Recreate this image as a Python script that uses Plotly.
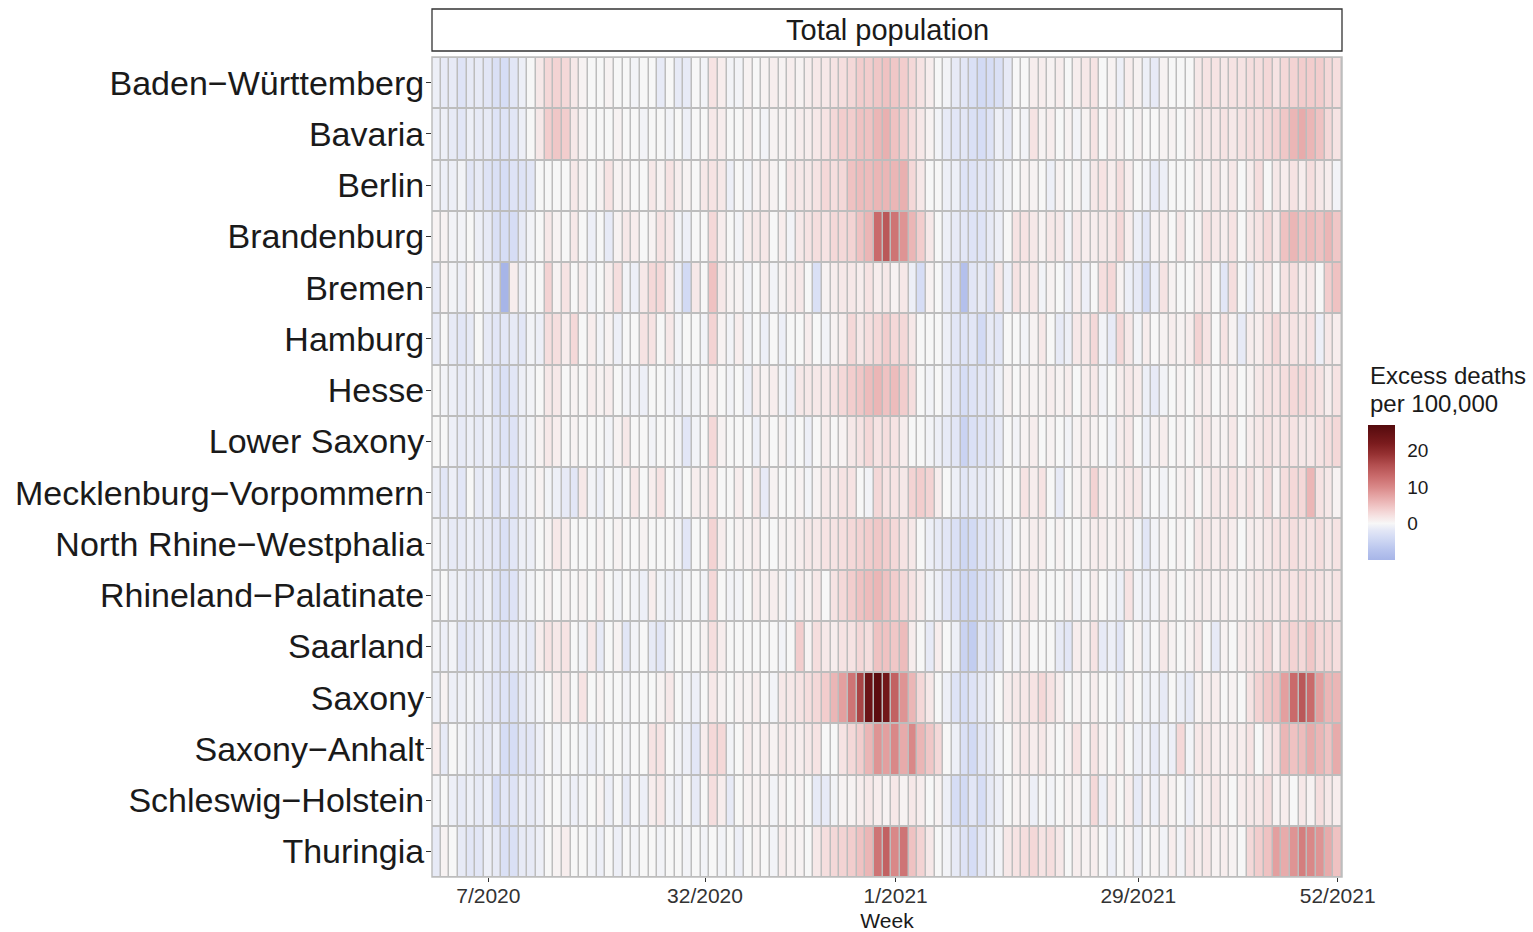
import plotly.graph_objects as go

# Weekly excess deaths per 100,000, German federal states, weeks 1/2020 .. 52/2021
states = [
    "Baden−Württemberg", "Bavaria", "Berlin", "Brandenburg", "Bremen", "Hamburg",
    "Hesse", "Lower Saxony", "Mecklenburg−Vorpommern", "North Rhine−Westphalia",
    "Rhineland−Palatinate", "Saarland", "Saxony", "Saxony−Anhalt",
    "Schleswig−Holstein", "Thuringia",
]

weeks = [f"{w}/2020" for w in range(1, 54)] + [f"{w}/2021" for w in range(1, 53)]
tick_weeks = ["7/2020", "32/2020", "1/2021", "29/2021", "52/2021"]

baden_wuerttemberg = [
    -1, -1.5, -1.5, -2.5, -1.5, -1.5, -2, -3, -3.5, -2, -1, 0, 1.5, 3, 3.5, 3, 1.5, 0.5, 0, 0, 0.5, 0, 0, -0.5, 0, 0, -1.5, 0, -1.5, -1.5, 0, -0.5, 2, 1, -0.5,
    -0.5, 0.5, 0, 0.5, 1, 0.5, 1, 0.5, 1, 1.5, 1.5, 2, 2.5, 3, 4, 4, 4.5, 5, 4.5, 4, 3, 2, 1, 0, -0.5, -1.5, -2, -3, -4, -3.5, -3, -1.5, 0, 0, 1,
    1, 0.5, 1, 0, 1, 1.5, 2, 0, 0.5, -1, 1, 0.5, -1, -1.5, 0.5, 0, 0, 0, 1.5, 2, 2, 1.5, 2, 2, 2.5, 2.5, 3, 2, 3, 3.5, 4, 4, 4, 3, 2.5,
]
bavaria = [
    -1, -1, -1.5, -2, -1, -1.5, -1.5, -2.5, -2.5, -2, -1, 0, 1.5, 4, 4.5, 4, 1.5, 0.5, 0, 0, 0, 0.5, 0, 0, -0.5, 0, 0, -0.5, 0, -1, 0, 0, 1.5, 1, 0,
    0, 0.5, 0, -0.5, 0.5, 0.5, 0.5, 1, 1, 1.5, 2, 3, 4, 4, 5, 5, 6, 6.5, 5, 4, 2.5, 1.5, 0.5, -0.5, -1.5, -2, -2, -3, -3.5, -2.5, -1, -1.5, 0, -0.5, 2,
    0.5, 1, 0, 0.5, -0.5, 0.5, 2, 0, 1, 0.5, 0, 0.5, 0, 0, 0.5, 0.5, 0, 0.5, 1.5, 1.5, 1.5, 2, 1.5, 2, 2.5, 2.5, 3, 3.5, 4.5, 6, 7, 6, 5, 3, 2,
]
berlin = [
    -0.5, -1, -1, -0.5, -2, -1.5, -2.5, -3, -3.5, -2.5, -2.5, -2, 0, 0, 0, 0, 1.5, 0.5, 0, 0.5, 2, 0.5, 0.5, 0, 0, 1.5, 0.5, 2, 1, 0.5, 0, 1.5, 2, 1.5, -1,
    0, -0.5, 0.5, 1, 0.5, 0, 1.5, 1.5, 1.5, 2, 3, 2.5, 3, 5, 5.5, 5.5, 6, 6, 6, 6.5, 3, 1.5, 0, 0, -1, -1, -2.5, -2.5, -2, -2, -1, -0.5, 0, 0.5, 0.5,
    0, -1, 0.5, 0, 0.5, -0.5, 1.5, 2, 1, 2.5, 1, 0, -0.5, -1.5, -1, 0, 0, 0, 1, 0.5, 1.5, 0.5, 1.5, 0, 1, 2.5, 0, 1.5, 1, 2, 1, 2.5, 1.5, 1, -0.5,
]
brandenburg = [
    0.5, 0.5, -0.5, -0.5, 0, -1, -1.5, -3, -3.5, -3.5, -1.5, -0.5, 0, 1.5, 0.5, 0, 1.5, 0, -1, 0, -1.5, 0.5, 1.5, 1, 0, 0.5, 2, 1.5, -0.5, -1, 0, 0, 3, 1, 0,
    -0.5, 1, 1.5, 1.5, 0, 1, -0.5, 1.5, 2, 2.5, 2, 3, 3, 3.5, 5, 6, 13, 15, 12, 9, 6, 4, 1.5, 0, -1, -1.5, -2, -2.5, -2.5, -1.5, -1, 0, 2, 2, 1.5,
    0.5, 1.5, 1.5, -0.5, 1.5, 1, 1, 1.5, 1.5, 3, 1, -1, -2, 0.5, 1, 0, 1.5, 0, 0.5, 2, 1.5, 1, 2, 0, 1.5, 2, 3, 1.5, 5, 6, 5, 5.5, 5, 6, 4.5,
]
bremen = [
    -1.5, 0.5, -0.5, -1, 0.5, 0, -1, -1.5, -10, 1, -1, 0, 0, 3.5, 0.5, 2, 0, 1, -0.5, 0, 1, 2.5, -0.5, -1, 1.5, 3, 3, 1, -1, -4, 1.5, 0, 5, 1.5, 0.5,
    0.5, -0.5, 0, 1, -0.5, 0.5, 1, 1.5, 0, -3, 0.5, 1, 1.5, 1.5, 1, 2, 1, 1.5, 0.5, 1.5, -1, -3.5, 0.5, 0, -1.5, -2, -8, -2, -1.5, -2.5, 1.5, -1, 2, 1, 1.5,
    -0.5, 0.5, 0, -1, 1, -1, 0, 2.5, 3, 0.5, -1, -1.5, -4, -1, 2, 0.5, 0, 0, 1, 1.5, 0, -2, 2.5, 0, -1, 1, 1.5, 0, 2, 2.5, 1, 1.5, 0, 4, 5,
]
hamburg = [
    -1.5, 0, -1.5, -2, -1.5, 0, -1.5, -2, -2, -1.5, -2, -0.5, -1, 2.5, 2.5, 1, 3, 0, 1, -0.5, 0.5, -1, 0, 0, 2, 2, 0, 1.5, -0.5, 0, 0, -0.5, 3.5, 0.5, -0.5,
    1, -0.5, 0, -1, 0, -1, 0, 0, 1, 0, -0.5, 0.5, 1, 3, 1.5, 2.5, 3, 4, 3, 3, 1.5, 0, 0, 0, -1, -2, -2.5, -2, -4, -1.5, -2, 0, 0, -0.5, 0.5,
    1.5, 0, -1.5, -1, 1.5, 1.5, 3, -0.5, -1.5, 3, 1.5, -0.5, 1, 0, 0.5, 1, 0.5, 1, 3.5, 2, 0, 2, 0.5, -1.5, 1, 1, 2, 3, 1.5, 2, 1.5, 2, -1, 1.5, 1,
]
hesse = [
    0, -0.5, -1, -1.5, -1, -1.5, -1, -2.5, -3, -2, -1, -0.5, 0, 1.5, 1.5, 0, 0.5, 0, 1, 0.5, 1, 0, -0.5, -0.5, -1, 0, 0, -0.5, -1, -0.5, -0.5, 0, 1, 0, -0.5,
    0, -1, 1, 0.5, 1, -0.5, -1, 1.5, 1.5, 1.5, 1.5, 2, 3, 4, 4.5, 5.5, 6, 5, 5.5, 4, 2.5, 0, -0.5, 0, -1, -2, -3.5, -2.5, -2, -2, -1, 0.5, 0, 0.5, 0.5,
    0.5, 1, 0.5, 1, 0, 1, 1.5, -0.5, 0, 1, 1.5, 1, -1, -1.5, -0.5, 0, 0.5, 0, 1, 1, 0, 0.5, 1, 0, 0.5, 1.5, 2, 2, 2.5, 3, 3, 2.5, 2, 1, 2,
]
lower_saxony = [
    0, 0, -1, -1.5, -1, -1.5, -1, -2, -2.5, -2.5, -1, -0.5, 0.5, 1.5, 1, 0, 0.5, 0, 0, 0, -0.5, 0.5, 1.5, 0, 0, -0.5, 0, 0, -0.5, -2, -0.5, 0, 3, 0.5, 0,
    0, 0, -1, 0.5, 0, 0.5, -0.5, 0, -1, 0, 1, 0, 0.5, 1.5, 2, 3, 2, 2.5, 2, 1, 0, 0, -0.5, -1, -1.5, -2, -5, -3, -2.5, -2, -1.5, 0, -0.5, 0.5, 1,
    0, 0.5, 0, -0.5, 0.5, 1, 0.5, 0, -0.5, 1, 1.5, 0, -1, 0.5, 1, 0, 0.5, 0, 1, 1.5, 0.5, 0.5, 1.5, 0, 1, 1.5, 2, 1.5, 2, 2, 1.5, 1.5, 2, 2.5, 3,
]
mecklenburg_vorpommern = [
    -1, -2, -1, -2, 0, -1.5, -1, -3, -1, -2.5, -1, -0.5, 0.5, -0.5, -1, -1.5, -2, 1.5, -0.5, -1, 0, -0.5, 0, 1.5, 0, 1, 2, 0, -0.5, 0, 1, 0.5, 2, 0, 0,
    1, 0, 1.5, -1.5, 0.5, 0, 0, 0.5, -0.5, 0.5, 1.5, 1, 2, 2, 0, -0.5, 3, 2, 2, 1.5, 3.5, 4, 3.5, 1, 0, -1, -2, -1.5, -1.5, -1, -0.5, 0, 0, 2, 1,
    2, 0, -1.5, 0, 0.5, 1, 3.5, 1, 0.5, 1, 1.5, 1.5, -0.5, 0, -0.5, 0, 0.5, 1, 0, 1, 1.5, 1, 2, 1, 2, 1, 2.5, 0.5, 2.5, 3, 3, 6, 2, 1.5, 0.5,
]
north_rhine_westphalia = [
    -0.5, -1, -1.5, -1.5, -1, -1.5, -1.5, -2, -3, -2, -1, -1, 0, 0.5, 1.5, 1, 0, 0, 0, 0.5, 0, 0.5, 0, 0, 0.5, 0, 0, 0, -0.5, -2, 0, 0, 3.5, 1, 0,
    0.5, 0.5, 1, 0, 0, 0.5, 0.5, 1, 1.5, 1.5, 2, 2, 2.5, 3, 3.5, 4, 4.5, 4, 3, 2, 1.5, 0, -1, -1.5, -2, -3, -4.5, -4, -2.5, -2, -1.5, -1, 0, 0.5, 1,
    1, 0, 0.5, 0, 0, 0.5, 1, 1, 0.5, 1, 1, -0.5, -2, -0.5, 0.5, 0, 0.5, 0, 1.5, 1.5, 1, 1.5, 1, 0, 1, 1, 1.5, 2, 2, 2.5, 2, 2, 2.5, 1.5, 2,
]
rhineland_palatinate = [
    -0.5, 0, -1, -1, -1.5, -1.5, -1, -2.5, -3, -2.5, -1, -0.5, 0, 0.5, 0, 0.5, 0, 0.5, 0, 1, 0, -0.5, 0, -0.5, -1, 1, -0.5, -1, -1, -0.5, 0, -0.5, 3, 0, -0.5,
    -0.5, 0, 1, 0.5, 1, 0.5, -0.5, 1, 0.5, 1.5, 0, 2, 3, 4, 5, 5.5, 6, 5, 4, 3, 2, 1, -0.5, -1, -2, -3, -4.5, -4.5, -3, -2.5, -1.5, -0.5, 0.5, 1, 1,
    0, 0, 0, 0.5, -0.5, 0, 1, 0, -0.5, -1, 2, -0.5, -1, -0.5, 1, 0.5, 0, 0.5, 1, 1, 0.5, 1, 0.5, 0.5, 1, 1.5, 1.5, 1.5, 2, 2, 2.5, 2, 2, 1.5, 2,
]
saarland = [
    -0.5, -1, -0.5, -2, -1.5, -1.5, -1, -2, -2.5, -1.5, -1, -1.5, 1, 2, 1.5, 2, 0, -0.5, 1.5, -1.5, 0, 0.5, -2, -0.5, 0, -1.5, -2, -0.5, 0, 0, 0, 0.5, 2.5, 1, 0,
    0, 0, 0, 0, 0, -0.5, 0, 4, 0.5, 2.5, 1.5, 1, 2, 2, 3, 2.5, 5, 5, 4.5, 5.5, 1, 0, -1.5, 1, 0, -1, -5, -6, -2, -3, -1.5, 0, -0.5, 1, 0,
    0, 0, -1.5, -2, 1, 0.5, 2, -1.5, -1, -2, 0, 0.5, -1, 0, 1.5, 0.5, 0, 0.5, 1.5, 0, -1.5, 0.5, 0, 1, 1.5, 2, 3, 1, 3, 3.5, 3, 4.5, 3, 3, 2.5,
]
saxony = [
    -1, 0.5, -1, -1, -0.5, -1, -1.5, -2, -2.5, -3, -1.5, -1, -0.5, 0, 1, 1.5, 0, 2, 0, 0.5, 0, 0, -0.5, 0, 0, 0, 0.5, 1.5, 0, -0.5, -1, 0, 1.5, 0.5, 0,
    0.5, 0.5, 1, 0, -0.5, 1.5, 1.5, 2, 2.5, 3, 4, 6, 8, 12, 17, 24, 26, 23, 14, 9, 6, 3, 1.5, 0, -1, -2.5, -3.5, -2.5, -1.5, -1, 0, 1, 1.5, 1.5, 2,
    3, 2, 1, 0, 0.5, 0, 1, 0, 0, -1, 0.5, 0, -1, -0.5, -1.5, 0, -1, -1.5, 0.5, 1, 1, 0, 0.5, 0, 2, 3.5, 4.5, 5, 8, 13, 15, 13, 8, 6, 6,
]
saxony_anhalt = [
    1, -1.5, 0, -0.5, -1, -1.5, -1.5, -1, -3.5, -3.5, -2, -2, -1, 0, -0.5, 0, 0, -0.5, -1, -0.5, 0, 0, -0.5, 0, 0, 2, 2, 0, -0.5, -1, -2, 1, 3, 3, -0.5,
    0, 1, 0.5, 1, 0.5, 1.5, 1, 1, 1.5, 2, 0, 0, 2, 3, 4, 6, 9, 8, 10, 7, 10, 6, 4.5, 3, 0, -1, -3, -4, -2, -1.5, -0.5, 0, 1, 1.5, 1,
    1.5, 0.5, 0, 0.5, 2, 0, 2, 0.5, 0, 1, 0, -1, -0.5, -1.5, -0.5, -1, 3, -0.5, 1.5, 1.5, 1, 0.5, 1, 1, 2, 0, 1.5, 2, 6, 5, 5.5, 7, 6, 5, 7,
]
schleswig_holstein = [
    -0.5, 0, -1, -1.5, -1, -1.5, -1, -3.5, -2, -2.5, -1, -1.5, -1, 0, 0, -0.5, -1, -0.5, 0, 0.5, -1, 0, -1.5, 0, -1, 1, 1.5, -0.5, -1, 0, -1.5, 0, 2.5, 1, -1.5,
    0, 0.5, 0.5, 0.5, -0.5, 0.5, 0, 0.5, 0, -1.5, -1.5, -0.5, 0.5, 0.5, 1, 1.5, 1, 0.5, 1.5, 0.5, 1.5, 1, 0, 0.5, -1, -3.5, -4, -2, -3.5, -1.5, -1, 0, 0.5, 0.5, -1,
    0, -0.5, 0, 0.5, 0.5, -0.5, 3, -1, 1, 0, 1, -1.5, 0.5, -1, 1, 0.5, 0, -1, 0.5, 1, 1.5, 0.5, 0, 1, 1.5, 1.5, 2.5, 0.5, 1, 0, 1.5, 0.5, 2.5, 1.5, 1,
]
thuringia = [
    -1.5, 0.5, 0, -1.5, -2, -2, -1, -1.5, -3, -3, -1.5, -1.5, -1, 0, 0.5, 1, 0, 0, -0.5, -1, 0, -1, 0, -0.5, 0, 0, -0.5, 0, 0, -0.5, 0, -0.5, 0, -0.5, 0,
    -1, 0, 0.5, 0, -0.5, 1, 0.5, 0.5, 0, 1.5, 2.5, 3, 3.5, 4, 5, 6, 12, 14, 10, 12, 5, 3.5, 1.5, 0, -0.5, -1.5, -2.5, -3.5, -2, -1, -0.5, 1.5, 2, 2.5, 3,
    2, 2.5, 1.5, 0, 1, 0.5, 1, 0, -1, 0, 0.5, -1, 0, 0.5, -0.5, 1, -0.5, 1.5, 1, 1.5, 0.5, 1, 0.5, 0, 3, 4, 5, 8, 7, 9, 11, 10, 9, 7, 5,
]

excess = [
    baden_wuerttemberg, bavaria, berlin, brandenburg, bremen, hamburg, hesse,
    lower_saxony, mecklenburg_vorpommern, north_rhine_westphalia,
    rhineland_palatinate, saarland, saxony, saxony_anhalt, schleswig_holstein,
    thuringia,
]
for row in excess:
    assert len(row) == len(weeks)

z_min, z_max = -10, 27


def pos(v):
    return (v - z_min) / (z_max - z_min)


# diverging scale: blue below zero, white at zero, dark red above
colorscale = [
    [pos(-10), "#a7b5e8"],
    [pos(-7), "#bac6ee"],
    [pos(-4), "#d2daf4"],
    [pos(-2), "#e2e6f6"],
    [pos(0), "#f7f7f7"],
    [pos(2), "#f6e3e3"],
    [pos(4), "#f2cdcd"],
    [pos(6), "#ebb6b6"],
    [pos(8), "#e39f9f"],
    [pos(10), "#d98888"],
    [pos(13), "#c96a6b"],
    [pos(16), "#b34f50"],
    [pos(19), "#963132"],
    [pos(22), "#7a1b1d"],
    [pos(27), "#540a0d"],
]

FONT = "Liberation Sans, Arial, sans-serif"

# panel occupies x 432..1342 px and y 57..877 px of the page
PANEL_TOP, PANEL_BOTTOM = 57, 877
PANEL_H = PANEL_BOTTOM - PANEL_TOP


def ypaper(px):
    return (PANEL_BOTTOM - px) / PANEL_H


fig = go.Figure(
    go.Heatmap(
        z=excess,
        x=weeks,
        y=states,
        colorscale=colorscale,
        zmin=z_min,
        zmax=z_max,
        xgap=1.5,
        ygap=2,
        hovertemplate="%{y}<br>%{x}: %{z}<extra></extra>",
        colorbar=dict(
            x=1.0286,
            xanchor="left",
            xpad=0,
            y=ypaper(492.5),
            yanchor="middle",
            ypad=0,
            thickness=27,
            len=135,
            lenmode="pixels",
            outlinewidth=0,
            tickvals=[0, 10, 20],
            ticks="outside",
            ticklen=9,
            tickcolor="white",
            tickfont=dict(family=FONT, size=19, color="#1a1a1a"),
        ),
    )
)

# strip label above the panel
fig.add_shape(
    type="rect", xref="paper", yref="paper",
    x0=0, x1=1, y0=ypaper(51), y1=ypaper(9),
    line=dict(color="#333333", width=1.3), fillcolor="white", layer="above",
)
fig.add_annotation(
    text="Total population", xref="paper", yref="paper", x=0.5, y=ypaper(30),
    showarrow=False, xanchor="center", yanchor="middle",
    font=dict(family=FONT, size=29, color="#1a1a1a"),
)
# panel outline
fig.add_shape(
    type="rect", xref="paper", yref="paper", x0=0, x1=1, y0=0, y1=1,
    line=dict(color="#bdbdbd", width=1.5), layer="above",
)

# legend title
fig.add_annotation(
    text="Excess deaths", xref="paper", yref="paper", x=1.0286, y=ypaper(375),
    showarrow=False, xanchor="left", yanchor="middle",
    font=dict(family=FONT, size=24, color="#1a1a1a"),
)
fig.add_annotation(
    text="per 100,000", xref="paper", yref="paper", x=1.0286, y=ypaper(403),
    showarrow=False, xanchor="left", yanchor="middle",
    font=dict(family=FONT, size=24, color="#1a1a1a"),
)

fig.update_layout(
    width=1533,
    height=932,
    margin=dict(l=432, r=191, t=PANEL_TOP, b=932 - PANEL_BOTTOM, pad=0, autoexpand=False),
    paper_bgcolor="white",
    plot_bgcolor="#bdbdbd",
    font=dict(family=FONT),
    xaxis=dict(
        type="category",
        tickmode="array",
        tickvals=tick_weeks,
        ticktext=tick_weeks,
        ticks="outside",
        ticklen=4,
        tickcolor="#333333",
        tickfont=dict(family=FONT, size=21, color="#333333"),
        ticklabelstandoff=-4,
        showgrid=False,
        zeroline=False,
        showline=False,
        automargin=False,
        title=dict(text="Week", font=dict(family=FONT, size=21, color="#1a1a1a"), standoff=7),
    ),
    yaxis=dict(
        type="category",
        autorange="reversed",
        ticks="outside",
        ticklen=5,
        tickcolor="#333333",
        tickfont=dict(family=FONT, size=34, color="#1a1a1a"),
        ticklabelstandoff=-5,
        showgrid=False,
        zeroline=False,
        showline=False,
        automargin=False,
    ),
)

fig.write_html("out.html")
